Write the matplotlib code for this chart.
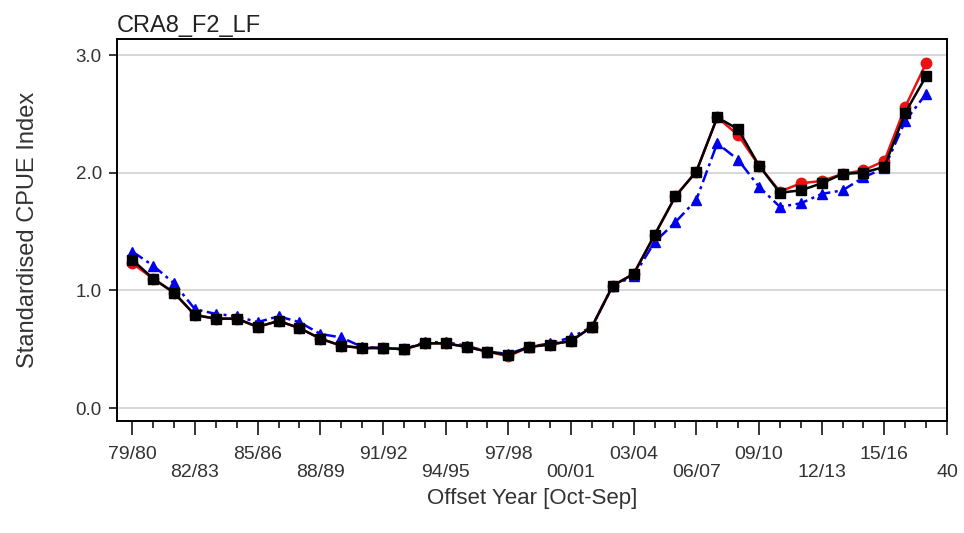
import matplotlib
matplotlib.use("Agg")
import matplotlib.pyplot as plt
import numpy as np

plt.rcParams['font.family'] = ['Liberation Sans', 'DejaVu Sans']

# Fishing years 1979/80 .. 2017/18
seasons = [f"{y % 100:02d}/{(y + 1) % 100:02d}" for y in range(1979, 2018)]

# Standardised CPUE indices for three model variants
cpue_red = [1.23, 1.10, 0.98, 0.79, 0.76, 0.76, 0.69, 0.74, 0.68, 0.59,
            0.53, 0.51, 0.51, 0.50, 0.55, 0.55, 0.52, 0.48, 0.44, 0.52,
            0.54, 0.57, 0.69, 1.04, 1.14, 1.47, 1.80, 2.01, 2.47, 2.32,
            2.06, 1.84, 1.91, 1.93, 1.99, 2.02, 2.10, 2.56, 2.93]
cpue_blue = [1.33, 1.21, 1.06, 0.84, 0.80, 0.78, 0.73, 0.78, 0.73, 0.63,
             0.60, 0.52, 0.51, 0.50, 0.56, 0.56, 0.53, 0.48, 0.46, 0.52,
             0.55, 0.60, 0.69, 1.04, 1.12, 1.41, 1.58, 1.77, 2.25, 2.11,
             1.88, 1.71, 1.74, 1.82, 1.85, 1.96, 2.04, 2.44, 2.67]
cpue_black = [1.26, 1.10, 0.98, 0.79, 0.76, 0.76, 0.69, 0.74, 0.68, 0.59,
              0.53, 0.51, 0.51, 0.50, 0.55, 0.55, 0.52, 0.48, 0.45, 0.52,
              0.54, 0.57, 0.69, 1.04, 1.14, 1.47, 1.80, 2.01, 2.47, 2.37,
              2.06, 1.83, 1.85, 1.91, 1.99, 2.00, 2.05, 2.51, 2.82]

# Tick labels every third season, plus the closing position
tick_pos = list(range(1, 41, 3))
tick_labels = [seasons[p - 1] for p in tick_pos[:-1]] + ["40"]

x = np.arange(1, len(seasons) + 1)

fig = plt.figure(figsize=(9.64, 5.33), dpi=100)
ax = fig.add_axes([0.1214, 0.2101, 0.8610, 0.7167])

ax.plot(x, cpue_blue, color='#0000ee', lw=1.8, dashes=(5, 1.8, 1.2, 1.8),
        marker='^', ms=7.5, zorder=3)
ax.plot(x, cpue_red, color='#ee1111', lw=1.8, marker='o', ms=7.5, zorder=4)
ax.plot(x, cpue_black, color='black', lw=1.8, marker='s', ms=7, zorder=5)

ax.set_xlim(0.27, 40)
ax.set_ylim(-0.11, 3.136)

ax.set_yticks([0, 1, 2, 3])
ax.set_yticklabels(["0.0", "1.0", "2.0", "3.0"])
ax.yaxis.grid(True, color='#d4d4d4', lw=1.3)
ax.set_axisbelow(True)

ax.set_xticks(tick_pos)
ax.set_xticklabels([lbl if i % 2 == 0 else "\n" + lbl
                    for i, lbl in enumerate(tick_labels)])
ax.set_xticks(range(1, 41), minor=True)
for lbl in ax.get_xticklabels():
    lbl.set_linespacing(1.08)

ax.tick_params(axis='x', which='major', length=10, width=1.1, labelsize=14,
               pad=8, colors='black', labelcolor='#333333')
ax.tick_params(axis='x', which='minor', length=5, width=1.1)
ax.tick_params(axis='y', which='major', length=6, width=1.1, labelsize=13.5,
               pad=5, labelcolor='#333333')

for s in ax.spines.values():
    s.set_linewidth(1.4)
    s.set_color('black')

ax.set_ylabel("Standardised CPUE Index", fontsize=17, color='#333333',
              labelpad=26)
ax.set_xlabel("Offset Year [Oct-Sep]", fontsize=16, color='#333333',
              labelpad=5)
ax.set_title("CRA8_F2_LF", loc='left', fontsize=17, color='#222222', pad=5)

fig.savefig("out.png", dpi=100)
